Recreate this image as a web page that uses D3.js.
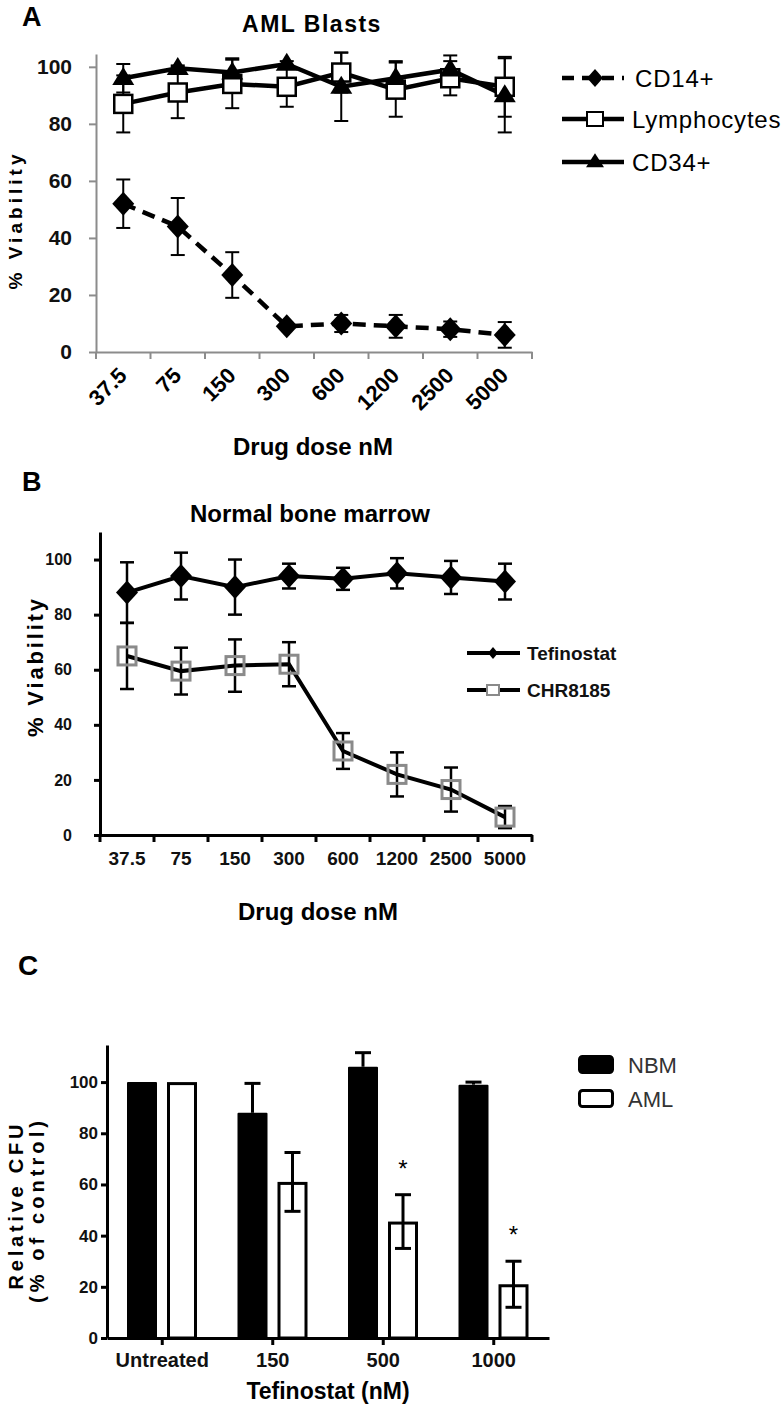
<!DOCTYPE html>
<html><head><meta charset="utf-8">
<script src="https://cdn.jsdelivr.net/npm/d3@7"></script>
<style>body{margin:0;background:#fff} svg text{font-family:"Liberation Sans",Arial,sans-serif}</style>
</head><body><svg id="c" width="783" height="1407"></svg>
<script>
// ---------- DATA ----------
const doses = ["37.5","75","150","300","600","1200","2500","5000"];
const viabTicks = [0,20,40,60,80,100];
// Panel A: AML blasts
const cd14 = [52,44,27,9,10,9,8,6];
const cd14Err = [8.5,10,8,1,3,4,2.7,4.5];
const lymph = [87,91,94,93,98,92,96,93];
const lymphErr = [10,9,8.5,7,7,9.5,6,10.5];
const cd34 = [96,99.5,98,101,93,96,99,90];
const cd34Err = [5,1,5,1,12,6,5,13];
// Panel B: normal bone marrow
const tef = [88,94,90,94,93,95,93.5,92];
const tefErr = [11,8.5,10,4.5,4,5.5,6,6.5];
const chr = [65,59.5,61.5,62,30.5,22,16.5,6.5];
const chrErr = [12,8.5,9.5,8,6.5,8,8,4];
// Panel C: CFU
const groupsC = ["Untreated","150","500","1000"];
const cfuTicks = [0,20,40,60,80,100];
const nbm = [100,88,106,99];
const nbmErr = [0,11.5,5.5,1];
const aml = [100,61,45.5,21];
const amlErr = [0,11.5,10.5,9];
const sigC = ["","","*","*"];

// ---------- HELPERS ----------
const svg = d3.select("#c");
const diamond = (w,h)=>`M0,${-h}L${w},0L0,${h}L${-w},0Z`;
const tri = (w,h)=>`M0,${-h*0.62}L${w},${h*0.38}L${-w},${h*0.38}Z`;
function styleAxis(g, color, width){
  g.selectAll("path.domain").attr("stroke",color).attr("stroke-width",width);
  g.selectAll(".tick line").attr("stroke",color).attr("stroke-width",width);
}
function errBars(g, x, y, vals, errs, cap, sw, up=true, down=true){
  vals.forEach((v,i)=>{
    const e = errs[i]; if(!e) return;
    const cx = x(i);
    const top = up? y(v+e): y(v), bot = down? y(v-e): y(v);
    g.append("line").attr("x1",cx).attr("x2",cx).attr("y1",top).attr("y2",bot).attr("stroke","#000").attr("stroke-width",sw);
    if(up) g.append("line").attr("x1",cx-cap/2).attr("x2",cx+cap/2).attr("y1",top).attr("y2",top).attr("stroke","#000").attr("stroke-width",sw);
    if(down) g.append("line").attr("x1",cx-cap/2).attr("x2",cx+cap/2).attr("y1",bot).attr("y2",bot).attr("stroke","#000").attr("stroke-width",sw);
  });
}

// ================= PANEL A =================
{
const g = svg.append("g");
const x = d3.scaleBand().domain(doses).range([96,532]);
const y = d3.scaleLinear().domain([0,104.5]).range([352,54]);
const cx = i => x(doses[i]) + x.bandwidth()/2;
const axY = g.append("g").attr("transform","translate(96,0)")
  .call(d3.axisLeft(y).tickValues(viabTicks).tickSize(7).tickSizeOuter(0).tickPadding(17));
styleAxis(axY,"#8c8c8c",2);
axY.selectAll("text").attr("font-size",21).attr("font-weight","bold").attr("fill","#111");
const axX = g.append("g").attr("transform","translate(0,352)")
  .call(d3.axisBottom(x).tickSize(0).tickSizeOuter(0).tickFormat(""));
styleAxis(axX,"#8c8c8c",2);
const edges = doses.map(d=>x(d)).concat([x.range()[1]]);
g.selectAll(".xe").data(edges).enter().append("line")
  .attr("x1",d=>d).attr("x2",d=>d).attr("y1",352).attr("y2",359).attr("stroke","#8c8c8c").attr("stroke-width",2);
g.selectAll(".xl").data(doses).enter().append("text")
  .attr("transform",d=>`translate(${x(d)+x.bandwidth()/2-6},366) rotate(-45)`)
  .attr("text-anchor","end").attr("dy","0.7em").attr("font-size",22).attr("font-weight","bold").text(d=>d);

const line = d3.line().x((d,i)=>cx(i)).y(d=>y(d));
g.append("path").attr("d",line(lymph)).attr("fill","none").attr("stroke","#000").attr("stroke-width",4.5);
g.append("path").attr("d",line(cd34)).attr("fill","none").attr("stroke","#000").attr("stroke-width",4.5);
g.append("path").attr("d",line(cd14)).attr("fill","none").attr("stroke","#000").attr("stroke-width",4.5).attr("stroke-dasharray","13,8");
const eg = g.append("g");
errBars(eg,cx,y,cd14,cd14Err,14,2);
errBars(eg,cx,y,lymph,lymphErr,14,2);
errBars(eg,cx,y,cd34,cd34Err,14,2);
lymph.forEach((v,i)=>g.append("rect").attr("x",cx(i)-9).attr("y",y(v)-9).attr("width",18).attr("height",18)
  .attr("fill","#fff").attr("stroke","#000").attr("stroke-width",2.5));
cd34.forEach((v,i)=>g.append("path").attr("d",tri(11,18)).attr("transform",`translate(${cx(i)},${y(v)})`).attr("fill","#000"));
cd14.forEach((v,i)=>g.append("path").attr("d",diamond(11,12)).attr("transform",`translate(${cx(i)},${y(v)})`).attr("fill","#000"));

g.append("text").attr("x",22).attr("y",26).attr("font-size",27).attr("font-weight","bold").text("A");
g.append("text").attr("x",312).attr("y",32).attr("text-anchor","middle").attr("font-size",23).attr("font-weight","bold").attr("letter-spacing",1.5).text("AML Blasts");
g.append("text").attr("transform","translate(22,222) rotate(-90)").attr("text-anchor","middle")
  .attr("font-size",19).attr("font-weight","bold").attr("textLength",135).attr("lengthAdjust","spacing").text("% Viability");
g.append("text").attr("x",313).attr("y",455).attr("text-anchor","middle").attr("font-size",24).attr("font-weight","bold").text("Drug dose nM");

// legend
const leg = [{n:"CD14+",m:"d",dash:true,y:78},{n:"Lymphocytes",m:"s",y:119},{n:"CD34+",m:"t",y:162}];
leg.forEach(l=>{
  g.append("line").attr("x1",562).attr("x2",624).attr("y1",l.y).attr("y2",l.y).attr("stroke","#000").attr("stroke-width",4.5)
    .attr("stroke-dasharray",l.dash?"12,8":null);
  if(l.m==="d") g.append("path").attr("d",diamond(8,9)).attr("transform",`translate(595,${l.y})`);
  if(l.m==="s") g.append("rect").attr("x",587).attr("y",l.y-7).attr("width",16).attr("height",14).attr("fill","#fff").attr("stroke","#000").attr("stroke-width",2);
  if(l.m==="t") g.append("path").attr("d",tri(9,14)).attr("transform",`translate(595,${l.y})`);
  g.append("text").attr("x",l.m==="d"?635:632).attr("y",l.y+9).attr("font-size",24).attr("letter-spacing",0.8).text(l.n);
});
}

// ================= PANEL B =================
{
const g = svg.append("g");
const x = d3.scaleBand().domain(doses).range([100,532]);
const y = d3.scaleLinear().domain([0,110]).range([835,532]);
const cx = i => x(doses[i]) + x.bandwidth()/2;
const axY = g.append("g").attr("transform","translate(100,0)")
  .call(d3.axisLeft(y).tickValues(viabTicks).tickSize(6).tickSizeOuter(0).tickPadding(22));
styleAxis(axY,"#000",3);
axY.selectAll("text").attr("font-size",16).attr("font-weight","bold").attr("fill","#111");
const axX = g.append("g").attr("transform","translate(0,835)")
  .call(d3.axisBottom(x).tickSize(0).tickSizeOuter(0).tickFormat(""));
styleAxis(axX,"#000",3);
const edges = doses.map(d=>x(d)).concat([x.range()[1]]);
g.selectAll(".xe").data(edges).enter().append("line")
  .attr("x1",d=>d).attr("x2",d=>d).attr("y1",835).attr("y2",842).attr("stroke","#000").attr("stroke-width",3);
g.selectAll(".xl").data(doses).enter().append("text")
  .attr("x",d=>x(d)+x.bandwidth()/2).attr("y",865).attr("text-anchor","middle")
  .attr("font-size",19).attr("font-weight","bold").attr("fill","#111").text(d=>d);

const line = d3.line().x((d,i)=>cx(i)).y(d=>y(d));
g.append("path").attr("d",line(tef)).attr("fill","none").attr("stroke","#000").attr("stroke-width",4);
g.append("path").attr("d",line(chr)).attr("fill","none").attr("stroke","#000").attr("stroke-width",4);
const eg = g.append("g");
errBars(eg,cx,y,tef,tefErr,14,2.5);
errBars(eg,cx,y,chr,chrErr,14,2.5);
chr.forEach((v,i)=>g.append("rect").attr("x",cx(i)-9).attr("y",y(v)-9).attr("width",18).attr("height",18)
  .attr("fill","none").attr("stroke","#8a8a8a").attr("stroke-width",3));
tef.forEach((v,i)=>g.append("path").attr("d",diamond(11,12)).attr("transform",`translate(${cx(i)},${y(v)})`).attr("fill","#000"));

g.append("text").attr("x",22).attr("y",491).attr("font-size",27).attr("font-weight","bold").text("B");
g.append("text").attr("x",310).attr("y",522).attr("text-anchor","middle").attr("font-size",24).attr("font-weight","bold").text("Normal bone marrow");
g.append("text").attr("transform","translate(43,668) rotate(-90)").attr("text-anchor","middle")
  .attr("font-size",22).attr("font-weight","bold").attr("textLength",138).attr("lengthAdjust","spacing").text("% Viability");
g.append("text").attr("x",318).attr("y",920).attr("text-anchor","middle").attr("font-size",24).attr("font-weight","bold").text("Drug dose nM");

[{n:"Tefinostat",m:"d",y:653},{n:"CHR8185",m:"s",y:690}].forEach(l=>{
  g.append("line").attr("x1",467).attr("x2",520).attr("y1",l.y).attr("y2",l.y).attr("stroke","#000").attr("stroke-width",4);
  if(l.m==="d") g.append("path").attr("d",diamond(5,6)).attr("transform",`translate(493,${l.y})`);
  else g.append("rect").attr("x",487).attr("y",l.y-5).attr("width",12).attr("height",10).attr("fill","#fff").attr("stroke","#8a8a8a").attr("stroke-width",2);
  g.append("text").attr("x",527).attr("y",l.y+7).attr("font-size",19).attr("font-weight","bold").attr("fill","#111").text(l.n);
});
}

// ================= PANEL C =================
{
const g = svg.append("g");
const x = d3.scaleBand().domain(groupsC).range([107,549]);
const xs = d3.scaleBand().domain(["NBM","AML"]).range([20,90]).paddingInner(0.25);
const y = d3.scaleLinear().domain([0,114.5]).range([1338,1045]);
// bars
groupsC.forEach((gr,i)=>{
  g.append("rect").attr("x",x(gr)+xs("NBM")).attr("y",y(nbm[i])).attr("width",xs.bandwidth()).attr("height",y(0)-y(nbm[i])).attr("fill","#000").attr("rx",1);
  g.append("rect").attr("x",x(gr)+xs("AML")+1.5).attr("y",y(aml[i])+1.5).attr("width",xs.bandwidth()-3).attr("height",y(0)-y(aml[i])-1.5)
    .attr("fill","#fff").attr("stroke","#000").attr("stroke-width",3);
});
const eg = g.append("g");
errBars(eg,i=>x(groupsC[i])+xs("NBM")+xs.bandwidth()/2,y,nbm,nbmErr,16,3,true,false);
errBars(eg,i=>x(groupsC[i])+xs("AML")+xs.bandwidth()/2,y,aml,amlErr,16,3,true,true);
sigC.forEach((s,i)=>{ if(!s) return;
  g.append("text").attr("x",x(groupsC[i])+xs("AML")+xs.bandwidth()/2).attr("y",y(aml[i]+amlErr[i])-18)
   .attr("text-anchor","middle").attr("font-size",24).text(s);
});
const axY = g.append("g").attr("transform","translate(107,0)")
  .call(d3.axisLeft(y).tickValues(cfuTicks).tickSize(6).tickSizeOuter(0).tickPadding(3));
styleAxis(axY,"#000",3);
axY.selectAll("text").attr("font-size",17).attr("font-weight","bold").attr("fill","#111");
const axX = g.append("g").attr("transform","translate(0,1338)")
  .call(d3.axisBottom(x).tickSize(7).tickSizeOuter(0).tickPadding(8));
styleAxis(axX,"#000",3);
axX.selectAll("text").attr("font-size",20).attr("font-weight","bold").attr("fill","#111");

g.append("text").attr("x",18).attr("y",975).attr("font-size",28).attr("font-weight","bold").text("C");
g.append("text").attr("transform","translate(23,1207) rotate(-90)").attr("text-anchor","middle")
  .attr("font-size",20).attr("font-weight","bold").attr("textLength",165).attr("lengthAdjust","spacing").text("Relative CFU");
g.append("text").attr("transform","translate(44,1212) rotate(-90)").attr("text-anchor","middle")
  .attr("font-size",20).attr("font-weight","bold").attr("textLength",182).attr("lengthAdjust","spacing").text("(% of control)");
g.append("text").attr("x",328).attr("y",1399).attr("text-anchor","middle").attr("font-size",23).attr("font-weight","bold").text("Tefinostat (nM)");
[{n:"NBM",f:"#000",y:1055},{n:"AML",f:"#fff",y:1089}].forEach(l=>{
  g.append("rect").attr("x",579.5).attr("y",l.y+1.5).attr("width",33).attr("height",16).attr("rx",3)
    .attr("fill",l.f).attr("stroke","#000").attr("stroke-width",3);
  g.append("text").attr("x",628).attr("y",l.y+18).attr("font-size",22).attr("fill","#333").text(l.n);
});
}
</script></body></html>
